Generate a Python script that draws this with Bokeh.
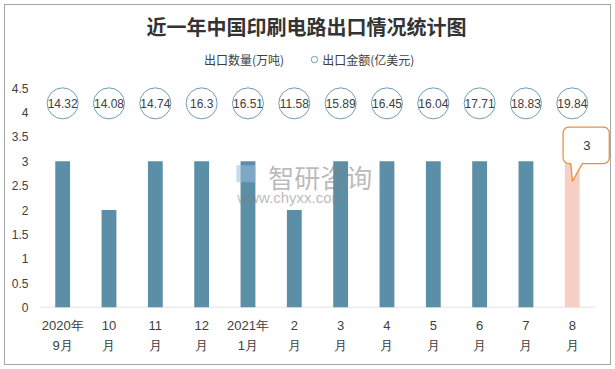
from bokeh.plotting import figure
from bokeh.models import Range1d, FixedTicker, Legend, LegendItem, ColumnDataSource, Label
from bokeh.core.properties import value
from bokeh.embed import file_html
from bokeh.resources import INLINE
import math

# ---------------- data ----------------
months = ["2020年\n9月", "10\n月", "11\n月", "12\n月", "2021年\n1月", "2\n月",
          "3\n月", "4\n月", "5\n月", "6\n月", "7\n月", "8\n月"]
quantity = [3, 2, 3, 3, 3, 2, 3, 3, 3, 3, 3, 3]          # 出口数量(万吨)
amount = [14.32, 14.08, 14.74, 16.3, 16.51, 11.58,
          15.89, 16.45, 16.04, 17.71, 18.83, 19.84]      # 出口金额(亿美元)
y_ticks = [0, 0.5, 1, 1.5, 2, 2.5, 3, 3.5, 4, 4.5]

title_text = "近一年中国印刷电路出口情况统计图"
qty_label = "出口数量(万吨)"
amt_label = "出口金额(亿美元)"

# ---------------- styles ----------------
CJK = "Noto Sans CJK SC"
BAR = "#5b8fa8"
HILITE = "#f8cfc5"
CIRCLE_LINE = "#6d9cb3"
TXT = "#404040"
CALLOUT = "#e8923d"

W, H = 615, 369
ML, MR, MT, MB = 39, 3, 40, 62
X0, X1 = -0.5, 11.868
Y0, Y1 = 0, 5.48
amount_level = 4.19   # row on which the amount bubbles sit

n = len(months)
xs = list(range(n))

p = figure(width=W, height=H, output_backend="svg", toolbar_location=None,
           x_range=Range1d(X0, X1), y_range=Range1d(Y0, Y1),
           min_border_left=ML, min_border_right=MR, min_border_top=MT, min_border_bottom=MB,
           outline_line_color=None, background_fill_alpha=0, border_fill_alpha=0)
p.styles = {"box-shadow": "inset 0 0 0 4px #ffffff, inset 0 0 0 5px #a6a6a6",
            "background-color": "#ffffff", "vertical-align": "top"}
p.grid.visible = False

# title
p.title.text = title_text
p.title.text_font = CJK
p.title.text_font_size = "20px"
p.title.text_font_style = "bold"
p.title.text_color = "#333333"
p.title.align = "left"
p.title.offset = 107
p.title.standoff = 0

# axes
p.yaxis.ticker = FixedTicker(ticks=y_ticks)
p.yaxis.major_label_overrides = {t: f"{t:g}" for t in y_ticks}
p.yaxis.axis_line_color = None
p.yaxis.major_tick_line_color = None
p.yaxis.minor_tick_line_color = None
p.yaxis.major_tick_out = 0
p.yaxis.major_label_standoff = 11
p.yaxis.major_label_text_font = "Liberation Sans"
p.yaxis.major_label_text_font_size = "12px"
p.yaxis.major_label_text_color = TXT

p.xaxis.ticker = FixedTicker(ticks=xs)
p.xaxis.major_label_overrides = {i: m for i, m in zip(xs, months)}
p.xaxis.axis_line_color = None
p.xaxis.major_tick_line_color = None
p.xaxis.minor_tick_line_color = None
p.xaxis.major_tick_out = 0
p.xaxis.major_label_standoff = 10
p.xaxis.major_label_text_font = "Liberation Sans"
p.xaxis.major_label_text_font_size = "13px"
p.xaxis.major_label_text_color = TXT
p.xaxis.major_label_text_line_height = 1.35

# baseline
p.segment(x0=[X0], y0=[0], x1=[n - 0.5], y1=[0], line_color="#d9d9d9", line_width=1.5)

# bars
colors = [BAR] * (n - 1) + [HILITE]
bar_src = ColumnDataSource(dict(x=xs, top=quantity, color=colors))
p.vbar(x="x", top="top", width=0.32, source=bar_src, fill_color="color", line_color=None)

# watermark
p.quad(left=[3.75], right=[4.16], bottom=[2.57], top=[2.92], fill_color="#9dbde0",
       fill_alpha=0.55, line_color=None)
p.add_layout(Label(x=4.44, y=2.69, text="智研咨询", text_font=CJK, text_font_size="26px",
                   text_color="#7f7f7f", text_alpha=0.55, text_baseline="middle"))
p.add_layout(Label(x=3.77, y=2.26, text="www.chyxx.com", text_font="Liberation Sans",
                   text_font_size="15px", text_color="#7f7f7f", text_alpha=0.55,
                   text_baseline="middle"))

# amount bubbles
amt_src = ColumnDataSource(dict(x=xs, y=[amount_level] * n, txt=[f"{a:g}" for a in amount]))
circ = p.scatter(x="x", y="y", source=amt_src, marker="circle", size=31,
                 fill_color="white", line_color=CIRCLE_LINE, line_width=1)
p.text(x="x", y="y", text="txt", source=amt_src, text_align="center", text_baseline="middle",
       text_font=value("Liberation Sans"), text_font_size="12px", text_color=TXT)

# callout on the last bar
fw = W - ML - MR
fh = H - MT - MB
sx = fw / (X1 - X0)
sy = fh / (Y1 - Y0)
ax, ay = xs[-1], quantity[-1]
L, R, T, B, r = -9.2, 37.0, -34.3, 2.3, 6.0
pts = []
def arc(cx, cy, a0, a1, steps=6):
    for k in range(steps + 1):
        a = math.radians(a0 + (a1 - a0) * k / steps)
        pts.append((cx + r * math.cos(a), cy + r * math.sin(a)))
pts.append((L + r, T))
pts.append((R - r, T))
arc(R - r, T + r, -90, 0)
pts.append((R, B - r))
arc(R - r, B - r, 0, 90)
pts.append((10.0, B))
pts.append((0.2, 20.0))
pts.append((-1.5, B))
arc(L + r, B - r, 90, 180)
pts.append((L, T + r))
arc(L + r, T + r, 180, 270)
px = [ax + u / sx for u, v in pts]
py = [ay - v / sy for u, v in pts]
p.patch(px, py, fill_color="white", line_color=CALLOUT, line_width=1.3)
p.text(x=[ax + 14.5 / sx], y=[ay + 16 / sy], text=[str(quantity[-1])], text_align="center",
       text_baseline="middle", text_font=value("Liberation Sans"), text_font_size="13px",
       text_color="#333333")

# legend
sq = p.scatter(x=[], y=[], marker="square", fill_color=BAR, line_color=None)
legend = Legend(items=[LegendItem(label=qty_label, renderers=[sq]),
                       LegendItem(label=amt_label, renderers=[circ])],
                orientation="horizontal", location=(149, 239.5),
                glyph_width=16, glyph_height=16, label_standoff=0, spacing=22,
                padding=2, margin=0, border_line_color=None, background_fill_alpha=0,
                label_text_font=CJK, label_text_font_size="12px", label_text_color=TXT,
                label_height=16)
p.add_layout(legend)

open("out.html", "w").write(file_html(p, INLINE))
